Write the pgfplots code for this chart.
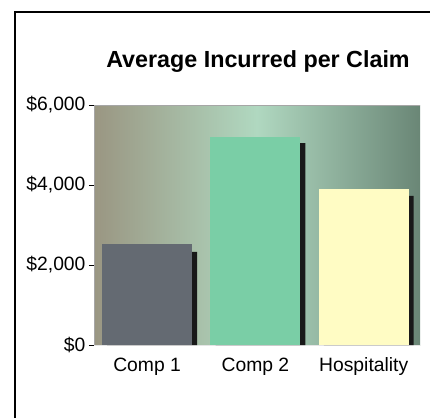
\documentclass[border=0pt]{standalone}
\usepackage{pgfplots}
\pgfplotsset{compat=1.18}
\usepackage{fontspec}
\setmainfont{Liberation Sans}
\definecolor{bgleft}{HTML}{9A9682}
\definecolor{bgmid}{HTML}{B0D8C0}
\definecolor{bgright}{HTML}{6A8676}
\definecolor{cA}{HTML}{646A72}
\definecolor{cB}{HTML}{7ACEA6}
\definecolor{cC}{HTML}{FFFCC4}
\begin{document}
\begin{tikzpicture}[x=1pt,y=1pt]
\draw[line width=2pt] (15,0) -- (15,406) -- (430,406);
\node[font=\fontsize{23.3}{27}\selectfont\bfseries] at (258,356) {Average Incurred per Claim};
\begin{axis}[
  at={(94pt,73pt)}, anchor=south west,
  scale only axis, width=326pt, height=240pt,
  xmin=-0.49, xmax=2.52, ymin=0, ymax=6000,
  axis background/.style={left color=bgleft, right color=bgright, middle color=bgmid},
  axis line style={draw=none},
  xtick={0,1,2}, xticklabels={Comp 1,Comp 2,Hospitality},
  xtick style={draw=none},
  ytick={0,2000,4000,6000},
  yticklabels={{\$0},{\$2,000},{\$4,000},{\$6,000}},
  ytick pos=left,
  ytick style={black, line width=0.6pt},
  tick align=outside, major tick length=5pt,
  ticklabel style={font=\fontsize{19.3}{22}\selectfont},
  xticklabel style={yshift=-4pt},
  clip=false,
]
\draw[gray!70, line width=0.6pt] (axis cs:-0.49,0) -- (axis cs:-0.49,6000) -- (axis cs:2.52,6000);
\draw[white!80!gray, line width=1pt] (axis cs:-0.49,0) -- (axis cs:2.52,0);
\addplot[ybar, bar shift=0pt, bar width=0.83, fill=black!90, draw=none]
  coordinates {(0.047,2330) (1.047,5050) (2.047,3730)};
\addplot[ybar, bar shift=0pt, bar width=0.83, fill=cA, draw=none]
  coordinates {(0,2520)};
\addplot[ybar, bar shift=0pt, bar width=0.83, fill=cB, draw=none]
  coordinates {(1,5200)};
\addplot[ybar, bar shift=0pt, bar width=0.83, fill=cC, draw=none]
  coordinates {(2,3900)};
\end{axis}
\pgfresetboundingbox
\path[use as bounding box] (0,0) rectangle (430,418);
\end{tikzpicture}
\end{document}
